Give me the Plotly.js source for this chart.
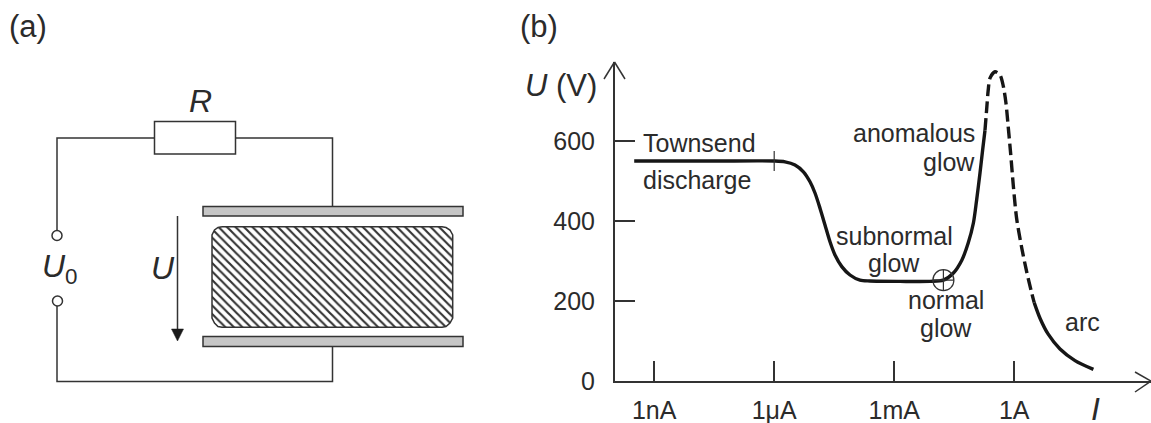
<!DOCTYPE html>
<html>
<head>
<meta charset="utf-8">
<script src="https://cdn.plot.ly/plotly-3.0.1.min.js"></script>
<style>html,body{margin:0;padding:0;background:#fff}</style>
</head>
<body>
<div id="chart" style="width:1151px;height:423px"></div>
<script>
// (b) I-U characteristic: log10 of current (A) and voltage (V)
const townsendGlowLogI = [-9.5,-7.5,-6,-5.73,-5.48,-5.27,-5.105,-4.98,-4.855,-4.73,-4.605,-4.48,-4.31,-4.105,-3.855,-3.605,-2.855,-2.105,-1.77,-1.52,-1.31,-1.15,-1.02,-0.94,-0.855,-0.79,-0.73];
const townsendGlowU    = [550,550,550,548,540,523,498,470,432,390,348,315,286,265,252,250,249,249,252,270,302,345,395,452,520,577,627];
const transitionLogI   = [-0.73,-0.69,-0.65,-0.605,-0.48,-0.355,-0.27,-0.205,-0.15,-0.09,-0.02,0.06,0.19,0.31,0.44,0.50];
const transitionU      = [627,677,727,757,773,765,736,694,636,570,486,407,332,274,219,196];
const arcLogI          = [0.50,0.645,0.85,1.145,1.52,1.98];
const arcU             = [196,157,117,80,51,29];
const normalGlowLogI   = [-1.77];
const normalGlowU      = [252];
const xTickVals = [-9,-6,-3,0];
const xTickText = ['1nA','1μA','1mA','1A'];
const yTickVals = [0,200,400,600];
const yTickText = ['0','200','400','600'];

// (a) schematic, page-pixel geometry
const wireTopX = [57,57,154.5], wireTopY = [230,138,138];
const wireTopRightX = [235.5,332.5,332.5], wireTopRightY = [138,138,206.5];
const wireBottomX = [332.5,332.5,57,57], wireBottomY = [346.5,381.5,381.5,306];
const terminalX = [57,57.5], terminalY = [235.5,301];
const plasmaOutlineX = [222,442,446,450,452.7,452.7,450,446,442,222,218,214.5,212,212,214.5,218,222];
const plasmaOutlineY = [226.7,226.7,227.5,230,235,318,323,326.5,327.3,327.3,326.5,323,318,235,230,227.5,226.7];

const ink = '#333333', textInk = '#2b2b2b';
const FONT = 'Liberation Sans, Arial, sans-serif';

function wire(x, y){
  return {x, y, xaxis:'x2', yaxis:'y2', mode:'lines', hoverinfo:'skip',
          line:{color:ink, width:1.5}};
}
const curve = (x, y, dash) => ({x, y, mode:'lines', cliponaxis:false, hoverinfo:'skip',
  line:{color:'#161616', width:3.4, shape:'spline', smoothing:0.8, dash:dash||'solid'}});

const traces = [
  curve(townsendGlowLogI, townsendGlowU),
  curve(transitionLogI, transitionU, '12px,5px'),
  curve(arcLogI, arcU),
  {x:normalGlowLogI, y:normalGlowU, mode:'markers', cliponaxis:false, hoverinfo:'skip',
   marker:{symbol:'circle-cross-open', size:21, color:ink, line:{color:ink, width:1.2}}},
  wire(wireTopX, wireTopY),
  wire(wireTopRightX, wireTopRightY),
  wire(wireBottomX, wireBottomY),
  {x:plasmaOutlineX, y:plasmaOutlineY, xaxis:'x2', yaxis:'y2', mode:'lines', fill:'toself',
   hoverinfo:'skip', line:{color:ink, width:1.5}, fillcolor:'#ffffff',
   fillpattern:{shape:'\\', size:6, solidity:0.36, fgcolor:'#333333', bgcolor:'#ffffff'}},
  {x:terminalX, y:terminalY, xaxis:'x2', yaxis:'y2', mode:'markers', hoverinfo:'skip',
   marker:{symbol:'circle', size:10, color:'#ffffff', line:{color:ink, width:1.5}}}
];

const px = (x0,y0,x1,y1,w) => ({type:'line', xref:'x2', yref:'y2', x0, y0, x1, y1, line:{color:ink, width:w||1.5}});
const plate = (y0,y1) => ({type:'rect', xref:'x2', yref:'y2', x0:203, x1:463, y0, y1,
  fillcolor:'#c6c6c6', line:{color:ink, width:1.5}});

const shapes = [
  {type:'rect', xref:'x2', yref:'y2', x0:154.5, x1:235.5, y0:121.5, y1:154, fillcolor:'#fff', line:{color:ink, width:1.5}},
  plate(206.5,216), plate(336.5,346.5),
  px(177.5,216,177.5,332,1.5),
  {type:'path', xref:'x2', yref:'y2', path:'M171.5,329 L183.5,329 L177.5,341 Z', fillcolor:'#1a1a1a', line:{color:'#1a1a1a', width:0.5}},
  px(604,79,614.5,62), px(625,79,614.5,62),
  px(1135,372,1151,381), px(1135,392,1151,381),
  {type:'line', xref:'x', yref:'y', x0:-6, x1:-6, y0:525, y1:575, line:{color:ink, width:1.2}}
];

const note = (text, x, y, size, anchor) => ({text, x, y, xref:'x2', yref:'y2', showarrow:false,
  xanchor:anchor||'center', yanchor:'middle', font:{family:FONT, size:size||25, color:textInk}});

const annotations = [
  note('(a)', 7, 26, 31, 'left'),
  note('(b)', 518, 26, 31, 'left'),
  note('<i>R</i>', 200, 101, 32),
  note('<i>U</i><sub>0</sub>', 40, 268, 32, 'left'),
  note('<i>U</i>', 163, 268, 32),
  note('<i>U</i> (V)', 523, 85, 31, 'left'),
  note('<i>I</i>', 1095, 409, 32),
  note('Townsend', 699, 143),
  note('discharge', 697, 180),
  note('anomalous', 977, 133, 25, 'right'),
  note('glow', 977, 162, 25, 'right'),
  note('subnormal', 894, 236),
  note('glow', 894, 263),
  note('normal', 946, 300),
  note('glow', 946, 328),
  note('arc', 1082, 322)
];

const layout = {
  width:1151, height:423, margin:{l:0,r:0,t:0,b:0}, showlegend:false,
  paper_bgcolor:'#fff', plot_bgcolor:'rgba(0,0,0,0)',
  font:{family:FONT, color:textInk},
  xaxis:{domain:[614.5/1151,1], range:[-9.9925,3.42], anchor:'y', showgrid:false, zeroline:false,
    showline:true, linecolor:ink, linewidth:1.5, ticks:'inside', ticklen:20, tickwidth:1.5, tickcolor:ink,
    tickmode:'array', tickvals:xTickVals, ticktext:xTickText, tickfont:{size:25,color:textInk,family:FONT}, ticklabelstandoff:6},
  yaxis:{domain:[42/423,361/423], range:[0,797.5], anchor:'x', showgrid:false, zeroline:false,
    showline:true, linecolor:ink, linewidth:1.5, ticks:'inside', ticklen:20, tickwidth:1.5, tickcolor:ink,
    tickmode:'array', tickvals:yTickVals, ticktext:yTickText, tickfont:{size:25,color:textInk,family:FONT}, ticklabelstandoff:13},
  xaxis2:{domain:[0,1], range:[0,1151], anchor:'y2', visible:false, fixedrange:true},
  yaxis2:{domain:[0,1], range:[423,0], anchor:'x2', visible:false, fixedrange:true},
  shapes, annotations
};

Plotly.newPlot('chart', traces, layout, {displayModeBar:false, staticPlot:true});
</script>
</body>
</html>
